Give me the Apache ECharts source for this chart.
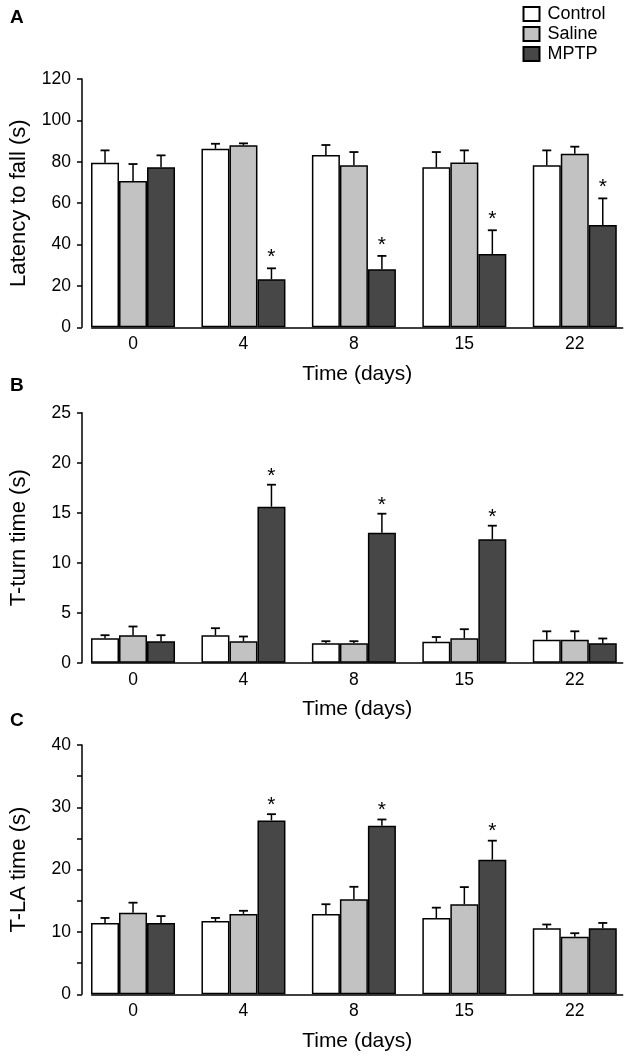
<!DOCTYPE html>
<html><head><meta charset="utf-8">
<script src="https://cdn.jsdelivr.net/npm/echarts@6/dist/echarts.min.js"></script>
<style>html,body{margin:0;padding:0;background:#fff}#c{width:630px;height:1057px}</style>
</head><body><div id="c"></div>
<script>
// ---------- data ----------
const categories = ['0', '4', '8', '15', '22'];
const groupNames = ['Control', 'Saline', 'MPTP'];

// Panel A: Latency to fall (s)
const latControl    = [79.5, 86.3, 83.3, 77.3, 78.3];
const latControlErr = [6.0, 2.4, 4.8, 7.4, 7.2];
const latSaline     = [70.7, 88.0, 78.3, 79.7, 83.9];
const latSalineErr  = [8.2, 0.9, 6.4, 5.8, 3.4];
const latMPTP       = [77.3, 23.2, 28.0, 35.4, 49.4];
const latMPTPErr    = [5.8, 5.3, 6.5, 11.5, 12.9];
const latStars      = [0, 1, 1, 1, 1];

// Panel B: T-turn time (s)
const turnControl    = [2.45, 2.75, 1.95, 2.1, 2.3];
const turnControlErr = [0.3, 0.7, 0.2, 0.47, 0.84];
const turnSaline     = [2.75, 2.15, 1.95, 2.45, 2.3];
const turnSalineErr  = [0.87, 0.47, 0.2, 0.9, 0.84];
const turnMPTP       = [2.15, 15.6, 13.0, 12.35, 1.95];
const turnMPTPErr    = [0.6, 2.2, 1.9, 1.35, 0.47];
const turnStars      = [0, 1, 1, 1, 0];

// Panel C: T-LA time (s)
const laControl    = [11.45, 11.75, 12.9, 12.25, 10.6];
const laControlErr = [0.8, 0.5, 1.55, 1.65, 0.6];
const laSaline     = [13.1, 12.9, 15.25, 14.45, 9.25];
const laSalineErr  = [1.6, 0.5, 2.0, 2.75, 0.55];
const laMPTP       = [11.45, 27.9, 27.05, 21.6, 10.6];
const laMPTPErr    = [1.1, 1.0, 1.0, 3.05, 0.85];
const laStars      = [0, 1, 1, 1, 0];

const yTitles = ['Latency to fall (s)', 'T-turn time (s)', 'T-LA time (s)'];
const xTitle = 'Time (days)';
const panelLetters = ['A', 'B', 'C'];

// ---------- style ----------
const FONT = '"Liberation Sans", Arial, Helvetica, sans-serif';
const BAR_W = 28;
const CAP = 4.5;
const colors = ['#ffffff', '#c2c2c2', '#474747'];

const panels = [
  { top: 79, height: 248.3, max: 120, interval: 20, every: 20, starGap: 11,
    vals: [latControl, latSaline, latMPTP], errs: [latControlErr, latSalineErr, latMPTPErr], stars: latStars },
  { top: 412.7, height: 250, max: 25, interval: 5, every: 5, starGap: 8,
    vals: [turnControl, turnSaline, turnMPTP], errs: [turnControlErr, turnSalineErr, turnMPTPErr], stars: turnStars },
  { top: 745, height: 249.3, max: 40, interval: 5, every: 10, starGap: 9,
    vals: [laControl, laSaline, laMPTP], errs: [laControlErr, laSalineErr, laMPTPErr], stars: laStars }
];
const letterTops = [3, 371, 706];

const grids = [], xAxes = [], yAxes = [], series = [], titles = [];

function errRender(k, starGap) {
  return function (params, api) {
    const cat = api.value(0), v = api.value(1), e = api.value(2), star = api.value(3);
    const base = api.coord([cat, v]);
    const top = api.coord([cat, v + e]);
    const x = base[0] + (k - 1) * BAR_W;
    const children = [];
    if (e > 0) {
      children.push({ type: 'line', shape: { x1: x, y1: base[1], x2: x, y2: top[1] }, style: { stroke: '#000', lineWidth: 1.5 } });
      children.push({ type: 'line', shape: { x1: x - CAP, y1: top[1], x2: x + CAP, y2: top[1] }, style: { stroke: '#000', lineWidth: 1.8 } });
    }
    if (star) {
      children.push({ type: 'text', x: x, y: top[1] - starGap,
        style: { text: '*', fontSize: 21, fill: '#000', align: 'center', verticalAlign: 'middle', fontFamily: FONT } });
    }
    return { type: 'group', children: children };
  };
}

panels.forEach(function (p, pi) {
  const gBars = grids.length;
  grids.push({ left: 77.8, width: 558.8, top: p.top, height: p.height });
  const gFrame = grids.length;
  grids.push({ left: 91.7, width: 531, top: p.top, height: p.height });

  const xBars = xAxes.length;
  xAxes.push({ type: 'category', gridIndex: gBars, data: categories,
    axisLine: { show: false }, axisTick: { show: false },
    axisLabel: { fontSize: 17.5, color: '#000', fontFamily: FONT, margin: 8 } });
  xAxes.push({ type: 'value', gridIndex: gFrame, min: 0, max: 1,
    axisLine: { show: true, lineStyle: { color: '#000', width: 1.5 } },
    axisTick: { show: false }, axisLabel: { show: false }, splitLine: { show: false },
    name: xTitle, nameLocation: 'middle', nameGap: 36,
    nameTextStyle: { fontSize: 21, color: '#000', fontFamily: FONT } });

  const yBars = yAxes.length;
  yAxes.push({ type: 'value', gridIndex: gBars, min: 0, max: p.max, interval: p.interval, offset: -4.2,
    axisLine: { show: true, lineStyle: { color: '#000', width: 1.5 } },
    axisTick: { show: true, length: 5, lineStyle: { color: '#000', width: 1.5 } },
    splitLine: { show: false },
    axisLabel: { fontSize: 17.5, color: '#000', fontFamily: FONT, margin: 11,
      formatter: function (v) { return (v % p.every === 0) ? String(v) : ''; } },
    name: yTitles[pi], nameLocation: 'middle', nameGap: 52,
    nameTextStyle: { fontSize: 22, color: '#000', fontFamily: FONT } });
  yAxes.push({ type: 'value', gridIndex: gFrame, min: 0, max: p.max, show: false });

  groupNames.forEach(function (name, k) {
    series.push({ type: 'bar', name: name, xAxisIndex: xBars, yAxisIndex: yBars,
      data: p.vals[k], barWidth: BAR_W, barGap: '0%',
      itemStyle: { color: colors[k], borderColor: '#000', borderWidth: 1.5 },
      emphasis: { disabled: true } });
  });
  groupNames.forEach(function (name, k) {
    const d = p.vals[k].map(function (v, i) { return [i, v, p.errs[k][i], k === 2 ? p.stars[i] : 0]; });
    series.push({ type: 'custom', xAxisIndex: xBars, yAxisIndex: yBars,
      renderItem: errRender(k, p.starGap), data: d, encode: { x: 0, y: 1 }, z: 5, silent: true });
  });

  titles.push({ text: panelLetters[pi], left: 5, top: letterTops[pi],
    textStyle: { fontSize: 19, fontWeight: 'bold', color: '#000', fontFamily: FONT } });
});

const chart = echarts.init(document.getElementById('c'), null, { renderer: 'canvas' });
chart.setOption({
  animation: false,
  backgroundColor: '#fff',
  title: titles,
  legend: { data: groupNames, orient: 'vertical', left: 522.5, top: 5, padding: 0,
    itemWidth: 16, itemHeight: 14, itemGap: 2, icon: 'rect', selectedMode: false,
    textStyle: { fontSize: 18, color: '#000', fontFamily: FONT, padding: [0, 0, 0, 3] } },
  grid: grids,
  xAxis: xAxes,
  yAxis: yAxes,
  series: series
});
</script>
</body></html>
